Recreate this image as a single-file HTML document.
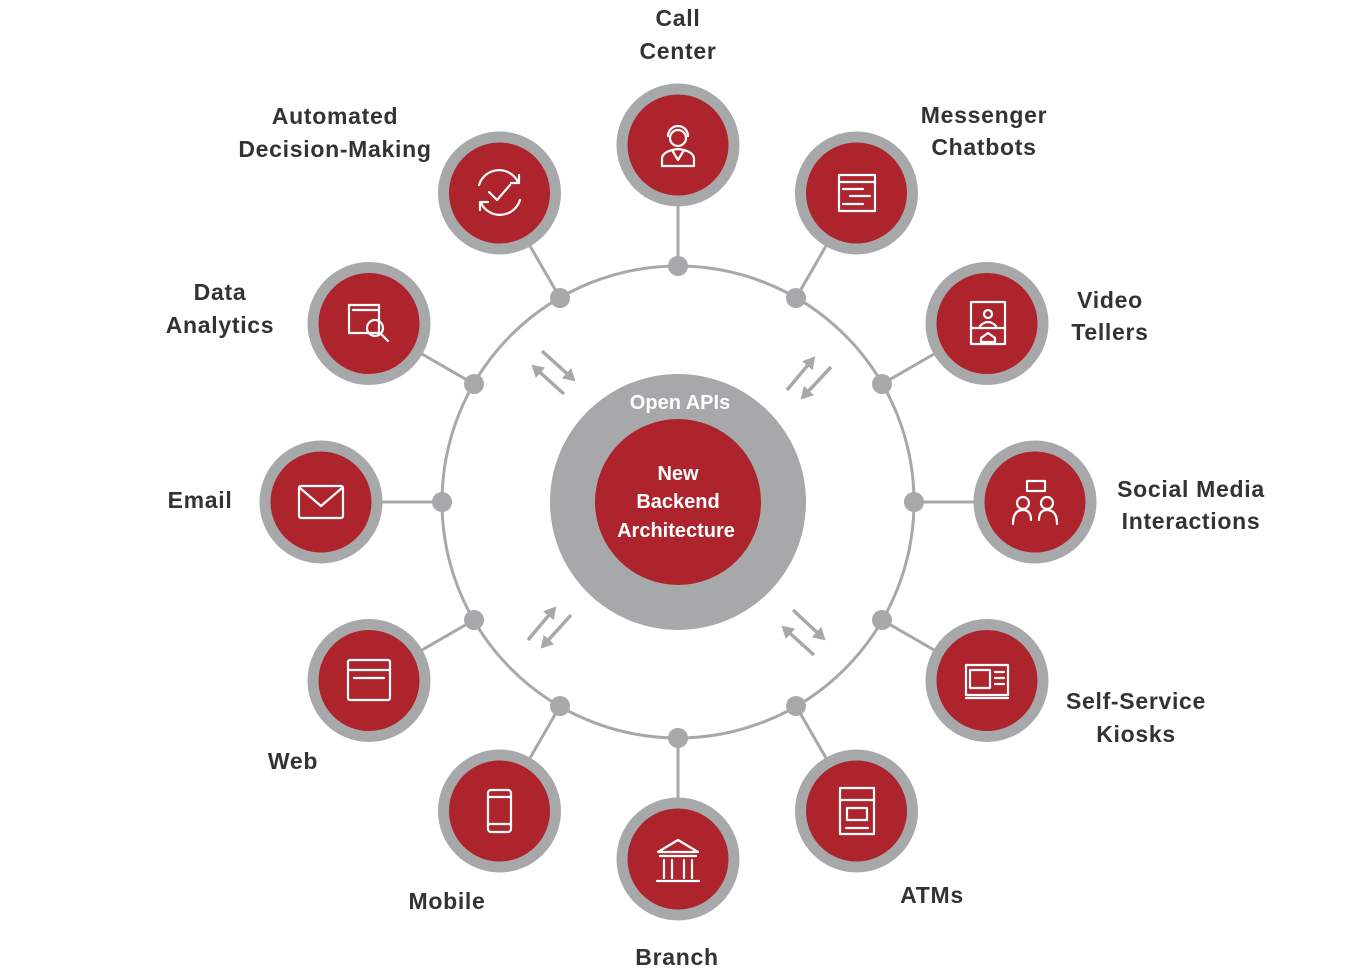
<!DOCTYPE html>
<html><head><meta charset="utf-8"><style>
html,body{margin:0;padding:0;background:#fff;}
svg{display:block}
text{font-family:"Liberation Sans",sans-serif;font-weight:bold;}
.lbl{fill:#333;font-size:23px;text-anchor:middle;letter-spacing:0.7px;font-weight:bold}
.ic{fill:none;stroke:#fff;stroke-width:2.2;stroke-linecap:round;stroke-linejoin:round}
</style></head><body>
<svg width="1352" height="976" viewBox="0 0 1352 976" xmlns="http://www.w3.org/2000/svg">
<defs>
<marker id="ah" markerWidth="4" markerHeight="4" refX="2.5" refY="2" orient="auto" markerUnits="strokeWidth">
<path d="M0,0 L3.5,2 L0,4 Z" fill="#a7a8aa"/></marker>
</defs>
<g stroke="#a7a8aa" stroke-width="3" fill="none">
<circle cx="678" cy="502" r="236"/>
<line x1="678" y1="266" x2="678" y2="145"/>
<line x1="796" y1="298" x2="856.5" y2="193"/>
<line x1="882" y1="384" x2="987" y2="323.5"/>
<line x1="914" y1="502" x2="1035" y2="502"/>
<line x1="882" y1="620" x2="987" y2="680.5"/>
<line x1="796" y1="706" x2="856.5" y2="811"/>
<line x1="678" y1="738" x2="678" y2="859"/>
<line x1="560" y1="706" x2="499.5" y2="811"/>
<line x1="474" y1="620" x2="369" y2="680.5"/>
<line x1="442" y1="502" x2="321" y2="502"/>
<line x1="474" y1="384" x2="369" y2="323.5"/>
<line x1="560" y1="298" x2="499.5" y2="193"/>
</g>
<g fill="#a7a8aa">
<circle cx="678" cy="266" r="10"/><circle cx="796" cy="298" r="10"/><circle cx="882" cy="384" r="10"/>
<circle cx="914" cy="502" r="10"/><circle cx="882" cy="620" r="10"/><circle cx="796" cy="706" r="10"/>
<circle cx="678" cy="738" r="10"/><circle cx="560" cy="706" r="10"/><circle cx="474" cy="620" r="10"/>
<circle cx="442" cy="502" r="10"/><circle cx="474" cy="384" r="10"/><circle cx="560" cy="298" r="10"/>
</g>
<!-- arrows -->
<g stroke="#a7a8aa" stroke-width="3.5" marker-end="url(#ah)">
<line x1="542" y1="351" x2="573" y2="379"/><line x1="564" y1="394" x2="534" y2="367"/>
<line x1="787" y1="390" x2="813" y2="359"/><line x1="831" y1="367" x2="803" y2="397"/>
<line x1="528" y1="640" x2="554" y2="609"/><line x1="571" y1="615" x2="543" y2="646"/>
<line x1="793" y1="610" x2="823" y2="638"/><line x1="814" y1="655" x2="784" y2="628"/>
</g>
<!-- center -->
<circle cx="678" cy="502" r="128" fill="#a7a8aa"/>
<circle cx="678" cy="502" r="83" fill="#ae242c"/>
<text x="680" y="409" fill="#fff" font-size="20" text-anchor="middle">Open APIs</text>
<text x="678" y="480" fill="#fff" font-size="20" text-anchor="middle">New</text>
<text x="678" y="508" fill="#fff" font-size="20" text-anchor="middle">Backend</text>
<text x="676" y="537" fill="#fff" font-size="20" text-anchor="middle">Architecture</text>
<!-- nodes -->
<g fill="#ae242c" stroke="#a7a8aa" stroke-width="11">
<circle cx="678" cy="145" r="56"/><circle cx="856.5" cy="193" r="56"/><circle cx="987" cy="323.5" r="56"/>
<circle cx="1035" cy="502" r="56"/><circle cx="987" cy="680.5" r="56"/><circle cx="856.5" cy="811" r="56"/>
<circle cx="678" cy="859" r="56"/><circle cx="499.5" cy="811" r="56"/><circle cx="369" cy="680.5" r="56"/>
<circle cx="321" cy="502" r="56"/><circle cx="369" cy="323.5" r="56"/><circle cx="499.5" cy="193" r="56"/>
</g>
<!-- icons -->
<g class="ic">
<circle cx="678" cy="138" r="8"/><path d="M668,136 a10,10 0 0 1 20,0 M662,166 v-7 q0,-8 16,-10 q16,2 16,10 v7 z M672,150 l6,10 l6,-10"/>
<path d="M479,185 a21,21 0 0 1 39,-3 M520,200 a21,21 0 0 1 -39,3"/><path d="M489,192 l8,8 l13,-15"/>
<path d="M519,175 v8 h-8 M480,210 v-8 h8"/>
<rect x="839" y="175" width="36" height="36"/><path d="M839,182 h36 M843,189 h20 M850,196 h20 M843,204 h20"/>
<rect x="971" y="302" width="34" height="42"/><circle cx="988" cy="314" r="4"/><path d="M980,326 q8,-8 16,0 M971,328 h34 M981,338 l7,-5 l7,5 v4 h-14z"/>
<rect x="1027" y="481" width="18" height="10"/><circle cx="1023" cy="503" r="6"/><circle cx="1047" cy="503" r="6"/><path d="M1013,524 q0,-14 10,-14 q8,0 8,10 M1057,524 q0,-14 -10,-14 q-8,0 -8,10"/>
<rect x="966" y="665" width="42" height="30"/><path d="M970,670 h20 v18 h-20z M995,672 h9 M995,678 h9 M995,684 h9 M966,698 h42"/>
<rect x="840" y="788" width="34" height="46"/><path d="M840,800 h34 M847,808 h20 v12 h-20z M846,828 h22"/>
<path d="M658,852 l20,-12 l20,12 z M660,856 h36 M664,860 v18 M672,860 v18 M684,860 v18 M692,860 v18 M657,881 h42"/>
<rect x="488" y="790" width="23" height="42" rx="3"/><path d="M488,797 h23 M488,824 h23"/>
<rect x="348" y="660" width="42" height="40" rx="2"/><path d="M348,670 h42 M354,678 h30"/>
<rect x="299" y="486" width="44" height="32" rx="2"/><path d="M300,488 l21,18 l21,-18"/>
<rect x="349" y="305" width="30" height="28"/><path d="M353,310 h26"/><circle cx="375" cy="328" r="8"/><path d="M381,334 l7,7"/>
</g>
<!-- labels -->
<text class="lbl" x="678" y="26">Call</text><text class="lbl" x="678" y="59">Center</text>
<text class="lbl" x="335" y="124">Automated</text><text class="lbl" x="335" y="157">Decision-Making</text>
<text class="lbl" x="984" y="123">Messenger</text><text class="lbl" x="984" y="155">Chatbots</text>
<text class="lbl" x="220" y="300">Data</text><text class="lbl" x="220" y="333">Analytics</text>
<text class="lbl" x="1110" y="308">Video</text><text class="lbl" x="1110" y="340">Tellers</text>
<text class="lbl" x="200" y="508">Email</text>
<text class="lbl" x="1191" y="497">Social Media</text><text class="lbl" x="1191" y="529">Interactions</text>
<text class="lbl" x="293" y="769">Web</text>
<text class="lbl" x="1136" y="709">Self-Service</text><text class="lbl" x="1136" y="742">Kiosks</text>
<text class="lbl" x="447" y="909">Mobile</text>
<text class="lbl" x="932" y="903">ATMs</text>
<text class="lbl" x="677" y="965">Branch</text>
</svg>
</body></html>
